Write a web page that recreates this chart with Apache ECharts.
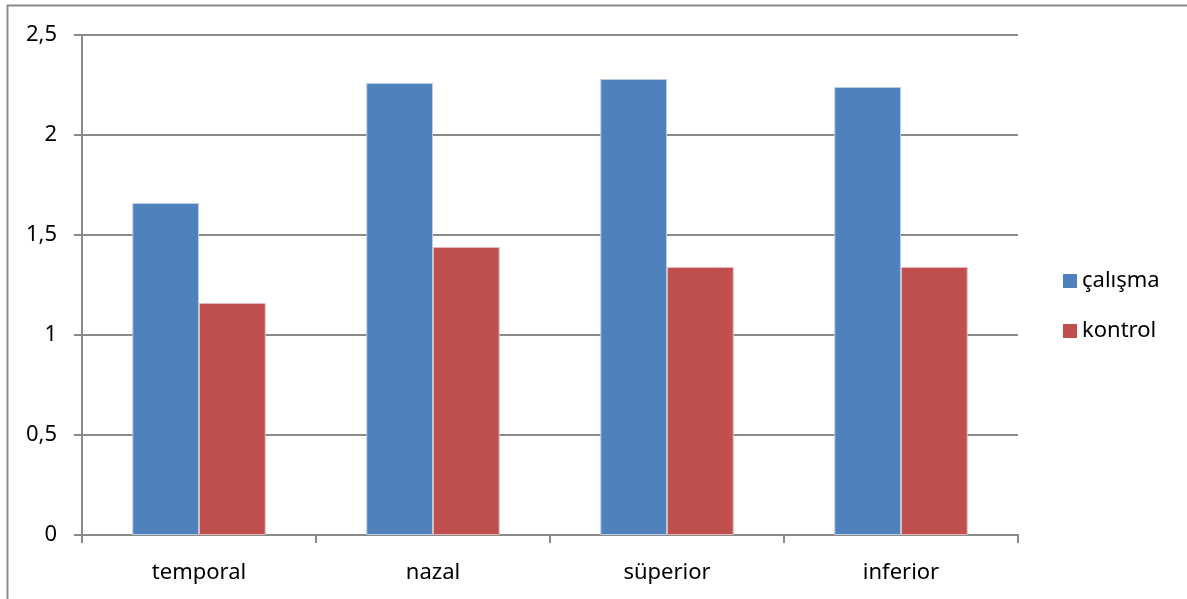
<!DOCTYPE html>
<html>
<head>
<meta charset="utf-8">
<script src="https://cdn.jsdelivr.net/npm/echarts@6/dist/echarts.min.js"></script>
<style>
  html, body { margin: 0; padding: 0; background: #fff; }
  #chart { width: 1187px; height: 599px; }
</style>
</head>
<body>
<div id="chart"></div>
<script>
// bölgeler ve değerler
var categories = ["temporal", "nazal", "süperior", "inferior"];
var calismaValues = [1.66, 2.26, 2.28, 2.24];
var kontrolValues = [1.16, 1.44, 1.34, 1.34];
var seriesNames = ["çalışma", "kontrol"];

var chart = echarts.init(document.getElementById("chart"));
var font = "'Noto Sans', sans-serif";

var option = {
  animation: false,
  backgroundColor: "#fff",
  graphic: [
    {
      type: "rect",
      shape: { x: 7.5, y: 5.5, width: 1300, height: 700 },
      style: { fill: "none", stroke: "#8a8a8a", lineWidth: 2 },
      silent: true
    }
  ],
  legend: {
    orient: "vertical",
    left: 1058,
    top: 265,
    itemWidth: 14,
    itemHeight: 14,
    itemGap: 28,
    icon: "rect",
    itemStyle: { borderWidth: 0 },
    textStyle: { fontFamily: font, fontSize: 22, color: "#000" },
    data: seriesNames
  },
  grid: {
    left: 82,
    right: 169,
    top: 35,
    bottom: 64,
    containLabel: false
  },
  xAxis: {
    type: "category",
    data: categories,
    axisLine: { lineStyle: { color: "#8a8a8a", width: 2 } },
    axisTick: { show: true, length: 8, alignWithLabel: false, lineStyle: { color: "#8a8a8a", width: 2 } },
    axisLabel: { fontFamily: font, fontSize: 22, color: "#000", margin: 27 },
    splitLine: { show: false }
  },
  yAxis: {
    type: "value",
    min: 0,
    max: 2.5,
    interval: 0.5,
    axisLine: { show: true, lineStyle: { color: "#8a8a8a", width: 2 } },
    axisTick: { show: true, length: 8, lineStyle: { color: "#8a8a8a", width: 2 } },
    axisLabel: {
      fontFamily: font,
      fontSize: 22,
      color: "#000",
      margin: 25,
      formatter: function (v) { return String(v).replace(".", ","); }
    },
    splitLine: { show: true, lineStyle: { color: "#8a8a8a", width: 2 } }
  },
  series: [
    {
      name: seriesNames[0],
      type: "bar",
      data: calismaValues,
      barGap: "0%",
      barCategoryGap: "43%",
      itemStyle: { color: "#4f81bd", borderColor: "#b9cde5", borderWidth: 1 }
    },
    {
      name: seriesNames[1],
      type: "bar",
      data: kontrolValues,
      itemStyle: { color: "#c0504d", borderColor: "#e6b9b8", borderWidth: 1 }
    }
  ]
};
chart.setOption(option);
</script>
</body>
</html>
